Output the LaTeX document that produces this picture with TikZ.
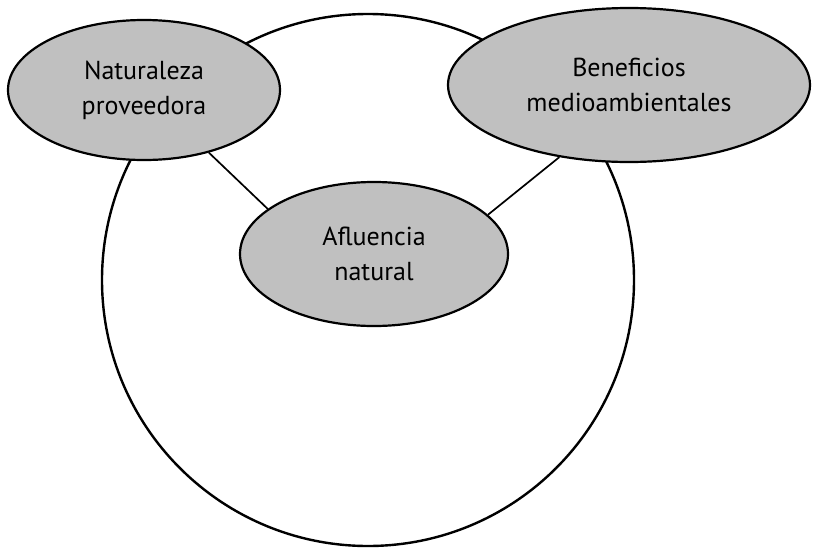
\documentclass[tikz,border=0pt]{standalone}
\usepackage{fontspec}
\setmainfont{PT Sans}
\usetikzlibrary{shapes.geometric}
\definecolor{bubblefill}{RGB}{192,192,192}
\begin{document}
\begin{tikzpicture}[x=1pt,y=-1pt,
  bubble/.style={ellipse,draw=black,line width=2.2pt,fill=bubblefill,inner sep=0pt,
    align=center,font=\fontsize{26}{35}\selectfont},
  ring/.style={circle,draw=black,line width=2.4pt,inner sep=0pt},
  link/.style={draw=black,line width=1.7pt}]
  \useasboundingbox (0,0) rectangle (813,549);
  % outer ring
  \node[ring,minimum size=532pt] (ring) at (368,280) {};
  % three themes
  \node[bubble,minimum width=272pt,minimum height=140pt] (nat) at (144,90)
    {Naturaleza\\proveedora};
  \node[bubble,minimum width=362pt,minimum height=154pt] (ben) at (629,85)
    {Beneficios\\medioambientales};
  \node[bubble,minimum width=268pt,minimum height=144pt] (afl) at (374,254)
    {Afluencia\\natural};
  % connections
  \draw[link] (nat.-44) -- (afl.157);
  \draw[link] (ben.-134) -- (afl.19);
\end{tikzpicture}
\end{document}
